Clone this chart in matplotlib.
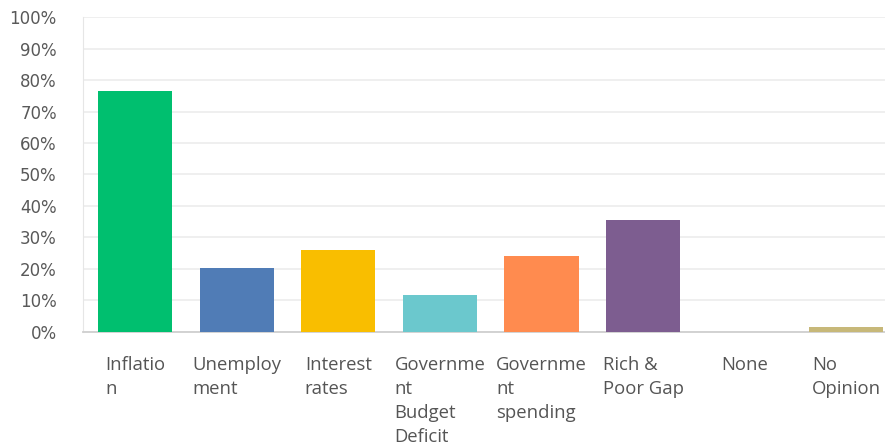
import numpy as np
import matplotlib.pyplot as plt
from matplotlib.ticker import FuncFormatter

# survey responses (share of respondents, %)
categories = ['Inflatio\nn', 'Unemploy\nment', 'Interest\nrates',
              'Governme\nnt\nBudget\nDeficit', 'Governme\nnt\nspending',
              'Rich &\nPoor Gap', 'None', 'No\nOpinion']
shares = [76.5, 20.3, 26.0, 11.7, 24.1, 35.6, 0.0, 1.6]
colors = ['#00BF6F', '#507CB6', '#F9BE00', '#6BC8CD', '#FF8B4F',
          '#7D5D90', '#D25F90', '#C7B879']

fig = plt.figure(figsize=(8.85, 4.48), dpi=100)
ax = fig.add_axes([0.094, 0.259, 0.906, 0.703])

x = np.arange(len(categories))
width = 0.73
ax.bar(x, shares, width=width, color=colors, zorder=3)

ax.set_ylim(0, 100)
ax.set_xlim(-0.51, len(categories) - 0.62)
ax.set_yticks(np.arange(0, 101, 10))
ax.yaxis.set_major_formatter(FuncFormatter(lambda v, p: f'{int(v)}%'))
ax.grid(axis='y', color='#ececec', linewidth=1.2, zorder=0)

# wrapped category labels, centred as a block under each bar
ax.set_xticks(x)
ax.set_xticklabels(categories, ha='center', va='top', multialignment='left',
                   fontsize=13.3, family='Open Sans', color='#555555',
                   linespacing=1.45)
ax.tick_params(axis='x', length=0, pad=17)
ax.tick_params(axis='y', length=0, pad=19, labelsize=12, labelcolor='#595959')

for side in ['top', 'right']:
    ax.spines[side].set_visible(False)
ax.spines['left'].set_color('#e6e6e6')
ax.spines['bottom'].set_color('#cfcfcf')
ax.spines['bottom'].set_linewidth(1.3)

fig.savefig('out.png', dpi=100)
